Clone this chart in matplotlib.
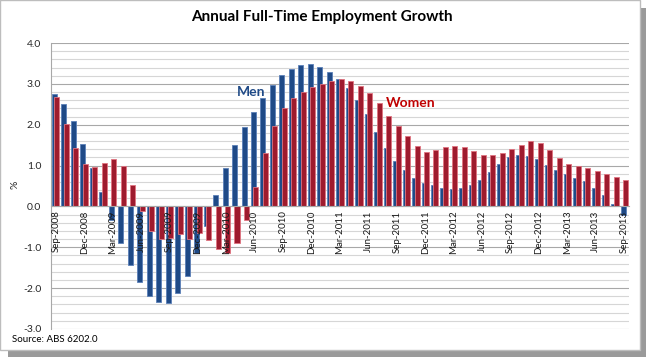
import matplotlib.pyplot as plt
from matplotlib.patches import Rectangle
import numpy as np
import pandas as pd

plt.rcParams['font.family'] = ['Lato', 'DejaVu Sans']

months = pd.date_range('2008-09-01', periods=61, freq='MS').strftime('%b-%Y').tolist()

men = [2.75, 2.50, 2.09, 1.54, 0.94, 0.36, -0.32, -0.90, -1.43, -1.86,
       -2.19, -2.35, -2.37, -2.13, -1.71, -1.13, -0.48, 0.29, 0.94, 1.50,
       1.94, 2.31, 2.65, 2.96, 3.21, 3.36, 3.46, 3.48, 3.41, 3.29,
       3.13, 2.90, 2.60, 2.26, 1.83, 1.44, 1.12, 0.88, 0.70, 0.58,
       0.52, 0.46, 0.43, 0.46, 0.53, 0.65, 0.84, 1.05, 1.20, 1.26,
       1.23, 1.15, 1.01, 0.89, 0.80, 0.70, 0.62, 0.46, 0.28, 0.07,
       -0.20]
women = [2.67, 2.02, 1.43, 1.03, 0.96, 1.07, 1.15, 0.98, 0.53, -0.10,
         -0.60, -0.80, -0.78, -0.68, -0.79, -0.65, -0.82, -1.05, -1.14, -0.89,
         -0.33, 0.48, 1.31, 1.98, 2.42, 2.66, 2.81, 2.93, 3.00, 3.06,
         3.12, 3.06, 2.94, 2.77, 2.52, 2.22, 1.98, 1.73, 1.47, 1.33,
         1.37, 1.46, 1.49, 1.46, 1.36, 1.27, 1.27, 1.31, 1.40, 1.51,
         1.59, 1.55, 1.38, 1.19, 1.04, 0.98, 0.93, 0.87, 0.80, 0.73,
         0.64]

blue = '#1f4a87'
red = '#9e1b2e'

fig = plt.figure(figsize=(6.46, 3.57), dpi=100)
# frame with shadow
fig.patches.append(Rectangle((8/646, 0), 638/646, 349/357, transform=fig.transFigure,
                             facecolor='#9a9a9a', edgecolor='none', zorder=-3))
fig.patches.append(Rectangle((0, 7/357), 640/646, 350/357, transform=fig.transFigure,
                             facecolor='white', edgecolor='#bdbdbd', lw=1, zorder=-2))

ax = fig.add_axes([51/646, 28/357, 578/646, 286/357])
ax.set_facecolor('none')
# x axis sits on zero; do this before setting ticks
ax.spines['bottom'].set_position(('data', 0))
ax.spines['bottom'].set_color('#a8a8a8')
ax.spines['bottom'].set_zorder(5)
ax.spines['left'].set_color('#a8a8a8')
ax.spines['top'].set_visible(False)
ax.spines['right'].set_visible(False)

x = np.arange(len(months))
ax.bar(x - 0.13, men, width=0.53, color=blue, edgecolor='#5b80b8', linewidth=0.6, zorder=3)
ax.bar(x + 0.13, women, width=0.53, color=red, edgecolor='#e07480', linewidth=0.6, zorder=4)

ax.set_xlim(-0.5, len(months) - 0.5)
ax.set_ylim(-3, 4)
ax.set_yticks(np.arange(-3, 5, 1))
ax.set_yticks(np.arange(-3, 4.01, 0.2), minor=True)
ax.set_yticklabels(['%.1f' % v for v in np.arange(-3, 5, 1)], fontsize=7.5, color='#262626')
ax.grid(axis='y', which='major', color='#a8a8a8', lw=0.8, zorder=0)
ax.grid(axis='y', which='minor', color='#d6d6d6', lw=0.8, zorder=0)
ax.tick_params(axis='y', which='both', length=0, pad=7)

ax.set_xticks(x[::3])
ax.set_xticklabels(months[::3], rotation=90, fontsize=7, color='#1a1a1a', va='top', ha='center')
ax.tick_params(axis='x', length=0, pad=3)
ax.xaxis.set_zorder(6)  # month labels drawn over the bars

fig.text(15/646, 1 - 185/357, '%', rotation=90, ha='center', va='center',
         fontsize=7.5, color='#262626')

ax.text(20.6, 2.8, 'Men', color=blue, fontsize=10, fontweight='bold', ha='center', va='center')
ax.text(37.5, 2.54, 'Women', color='#c00000', fontsize=10, fontweight='bold', ha='center', va='center')

fig.text(322/646, 1 - 17/357, 'Annual Full-Time Employment Growth', ha='center', va='center',
         fontsize=11, fontweight='bold')
fig.text(12/646, 17/357, 'Source: ABS 6202.0', ha='left', va='center', fontsize=7)

fig.savefig('out.png', dpi=100)
